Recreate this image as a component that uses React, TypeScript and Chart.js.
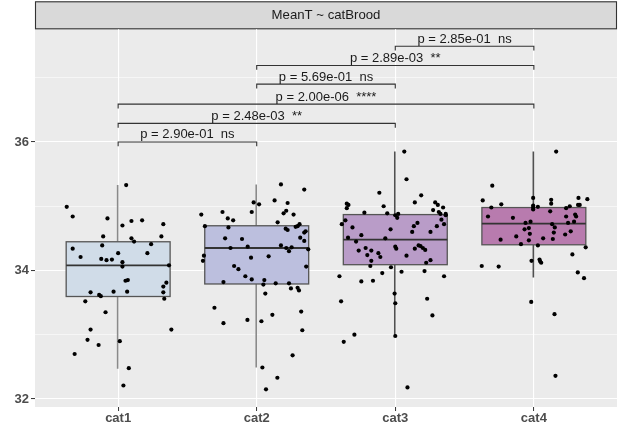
import React, { useEffect, useRef } from "react";
import { Chart, registerables } from "chart.js";

Chart.register(...registerables);

const stripTitle = "MeanT ~ catBrood";
const categories = ["cat1", "cat2", "cat3", "cat4"];
const yTickValues = [32, 33, 34, 35, 36, 37];
const yLabelValues = [32, 34, 36];

// box statistics
const whiskerLow = [32.47, 32.49, 32.97, 33.89];
const quartile1 = [33.595, 33.79, 34.09, 34.4];
const medians = [34.078, 34.35, 34.48, 34.73];
const quartile3 = [34.447, 34.696, 34.87, 34.98];
const whiskerHigh = [35.33, 35.34, 35.85, 35.85];

// jittered observations: value and horizontal jitter (in category units)
const cat1Values = [35.33, 34.99, 34.84, 34.81, 34.77, 34.78, 34.7, 34.72, 34.53, 34.53, 34.5, 34.45, 34.41, 34.39, 34.34, 34.27, 34.27, 34.21, 34.18, 34.16, 34.17, 34.13, 34.06, 34.08, 33.84, 33.85, 33.81, 33.75, 33.66, 33.62, 33.6, 33.67, 33.67, 33.66, 33.56, 33.52, 33.35, 33.08, 33.08, 32.92, 32.84, 32.9, 32.7, 32.48, 32.21];
const cat1Jitter = [0.058, -0.371, -0.328, -0.077, 0.096, 0.173, 0.031, 0.326, -0.108, 0.312, 0.096, 0.115, 0.238, -0.115, -0.328, 0.211, 0.0, -0.271, -0.122, -0.084, -0.045, 0.031, 0.031, 0.367, 0.053, 0.07, 0.348, 0.326, -0.199, -0.137, -0.125, -0.033, 0.065, 0.326, 0.333, -0.237, -0.091, -0.199, 0.384, -0.221, -0.141, 0.012, -0.314, 0.077, 0.038];

const cat2Values = [35.34, 35.26, 35.06, 35.03, 35.09, 35.05, 34.87, 34.91, 34.91, 34.89, 34.93, 34.87, 34.81, 34.78, 34.75, 34.69, 34.67, 34.65, 34.63, 34.68, 34.69, 34.72, 34.59, 34.61, 34.5, 34.49, 34.51, 34.46, 34.37, 34.35, 34.39, 34.35, 34.36, 34.33, 34.3, 34.23, 34.15, 34.2, 34.22, 34.07, 34.02, 34.06, 33.91, 33.86, 33.85, 33.78, 33.82, 33.8, 33.8, 33.72, 33.73, 33.69, 33.64, 33.42, 33.31, 33.36, 33.18, 33.23, 33.21, 33.07, 32.68, 32.49, 32.33, 32.15];
const cat2Jitter = [0.175, 0.343, -0.022, 0.017, 0.129, 0.223, -0.4, -0.247, -0.036, 0.194, 0.213, 0.266, -0.209, -0.17, 0.151, -0.374, -0.204, 0.209, 0.223, 0.281, 0.295, 0.309, 0.343, 0.353, -0.228, -0.106, 0.314, 0.343, -0.065, -0.189, 0.175, 0.213, 0.252, 0.372, 0.233, -0.381, -0.388, -0.041, 0.086, -0.163, -0.132, 0.357, -0.082, -0.036, 0.055, 0.048, -0.24, 0.137, 0.233, 0.247, 0.295, 0.305, 0.062, -0.305, 0.113, 0.321, -0.24, -0.067, 0.034, 0.329, 0.259, 0.041, 0.149, 0.067];

const cat3Values = [35.85, 35.42, 35.21, 35.17, 35.0, 35.06, 35.06, 35.02, 34.98, 35.04, 35.02, 34.97, 34.9, 34.89, 34.86, 34.88, 34.82, 34.94, 34.91, 34.88, 34.88, 34.86, 34.78, 34.72, 34.67, 34.79, 34.72, 34.69, 34.74, 34.69, 34.64, 34.6, 34.6, 34.55, 34.51, 34.5, 34.45, 34.31, 34.35, 34.31, 34.24, 34.27, 34.21, 34.15, 34.07, 34.37, 34.34, 34.34, 34.39, 34.38, 34.35, 34.32, 34.23, 34.16, 34.12, 34.05, 33.96, 33.98, 33.99, 33.91, 33.83, 33.84, 33.91, 33.64, 33.49, 33.56, 33.52, 33.3, 33.0, 32.89, 32.98, 32.18];
const cat3Jitter = [0.065, 0.081, -0.115, 0.187, -0.084, 0.141, 0.288, 0.307, 0.345, -0.35, -0.338, -0.35, -0.223, -0.058, 0.0, 0.021, 0.014, 0.273, 0.314, 0.326, 0.364, 0.364, -0.36, -0.386, -0.309, 0.333, 0.352, 0.3, 0.16, 0.134, -0.034, 0.122, 0.254, -0.245, -0.341, -0.072, -0.283, -0.264, -0.214, -0.173, -0.202, -0.122, -0.108, -0.173, -0.18, 0.0, 0.007, 0.141, 0.168, 0.182, 0.199, 0.216, 0.081, 0.254, 0.223, -0.031, -0.094, 0.045, 0.211, -0.403, -0.245, -0.161, 0.352, -0.005, 0.0, 0.23, -0.391, 0.268, -0.295, -0.372, 0.0, 0.088];

const cat4Values = [35.85, 35.32, 35.09, 35.03, 34.98, 35.13, 35.01, 34.98, 34.95, 34.99, 35.1, 35.04, 35.13, 35.11, 35.02, 35.02, 35.0, 34.97, 34.92, 34.84, 34.82, 34.84, 34.87, 34.84, 34.76, 34.74, 34.76, 34.74, 34.72, 34.67, 34.64, 34.66, 34.57, 34.59, 34.61, 34.56, 34.53, 34.5, 34.49, 34.48, 34.47, 34.41, 34.39, 34.36, 34.25, 34.15, 34.17, 34.14, 34.12, 34.07, 34.06, 33.97, 33.88, 33.51, 33.32, 32.36];
const cat4Jitter = [0.161, -0.3, -0.369, -0.235, -0.307, -0.005, -0.005, -0.005, -0.005, 0.029, 0.125, 0.125, 0.322, 0.386, 0.319, 0.331, 0.259, 0.233, 0.118, -0.331, -0.151, 0.233, 0.298, 0.305, -0.024, -0.06, 0.29, 0.247, 0.132, 0.151, -0.067, -0.036, -0.029, 0.144, 0.266, 0.226, -0.127, 0.067, 0.137, -0.24, -0.036, -0.093, 0.029, 0.374, 0.278, -0.017, 0.041, 0.046, 0.053, -0.376, -0.254, 0.317, 0.362, -0.019, 0.149, 0.156];

// pairwise comparisons
const bracketFrom = [1, 1, 1, 2, 2, 3];
const bracketTo = [2, 3, 4, 3, 4, 4];
const bracketY = [36.0, 36.29, 36.59, 36.9, 37.19, 37.49];
const bracketLabels = [
  "p = 2.90e-01  ns",
  "p = 2.48e-03  **",
  "p = 2.00e-06  ****",
  "p = 5.69e-01  ns",
  "p = 2.89e-03  **",
  "p = 2.85e-01  ns",
];

const yMin = 31.875;
const yMax = 37.754;

const boxFills = ["#d0dce8", "#bcbfde", "#b99cc8", "#b87bae"];
const whiskerColors = ["#8a8a8a", "#8a8a8a", "#505050", "#505050"];
const FONT = "'Liberation Sans', Arial, Helvetica, sans-serif";

const allValues = [cat1Values, cat2Values, cat3Values, cat4Values];
const allJitter = [cat1Jitter, cat2Jitter, cat3Jitter, cat4Jitter];

const panelPlugin = {
  id: "ggPanel",
  beforeDraw(chart: any) {
    const { ctx, chartArea: a } = chart;
    ctx.save();
    ctx.fillStyle = "#ebebeb";
    ctx.fillRect(a.left, a.top, a.right - a.left, a.bottom - a.top);
    const stripH = 28;
    ctx.fillStyle = "#d9d9d9";
    ctx.fillRect(a.left, a.top - stripH, a.right - a.left, stripH);
    ctx.strokeStyle = "#333333";
    ctx.lineWidth = 1.1;
    ctx.strokeRect(a.left + 0.5, a.top - stripH + 0.5, a.right - a.left - 1, stripH - 1);
    ctx.fillStyle = "#1a1a1a";
    ctx.font = "13.2px " + FONT;
    ctx.textAlign = "center";
    ctx.textBaseline = "middle";
    ctx.fillText(stripTitle, (a.left + a.right) / 2, a.top - stripH / 2 + 0.5);
    ctx.restore();
  },
  beforeDatasetsDraw(chart: any) {
    const { ctx } = chart;
    const xs = chart.scales.x;
    const ys = chart.scales.y;
    ctx.save();
    for (let i = 0; i < categories.length; i++) {
      const cx = xs.getPixelForValue(i + 1);
      const half = xs.getPixelForValue(i + 1 + 0.375) - cx;
      const yq1 = ys.getPixelForValue(quartile1[i]);
      const yq3 = ys.getPixelForValue(quartile3[i]);
      const ymed = ys.getPixelForValue(medians[i]);
      const ylo = ys.getPixelForValue(whiskerLow[i]);
      const yhi = ys.getPixelForValue(whiskerHigh[i]);
      ctx.strokeStyle = whiskerColors[i];
      ctx.lineWidth = 1.6;
      ctx.beginPath();
      ctx.moveTo(cx - 0.5, yhi);
      ctx.lineTo(cx - 0.5, yq3);
      ctx.moveTo(cx - 0.5, yq1);
      ctx.lineTo(cx - 0.5, ylo);
      ctx.stroke();
      ctx.fillStyle = boxFills[i];
      ctx.fillRect(cx - half, yq3, half * 2, yq1 - yq3);
      ctx.strokeStyle = "#555555";
      ctx.lineWidth = 1.3;
      ctx.strokeRect(cx - half, yq3, half * 2, yq1 - yq3);
      ctx.strokeStyle = "#333333";
      ctx.lineWidth = 1.8;
      ctx.beginPath();
      ctx.moveTo(cx - half, ymed);
      ctx.lineTo(cx + half, ymed);
      ctx.stroke();
    }
    ctx.restore();
  },
  afterDatasetsDraw(chart: any) {
    const { ctx } = chart;
    const xs = chart.scales.x;
    const ys = chart.scales.y;
    ctx.save();
    ctx.strokeStyle = "#333333";
    ctx.lineWidth = 1.1;
    ctx.font = "13px " + FONT;
    ctx.textAlign = "center";
    ctx.textBaseline = "alphabetic";
    for (let i = 0; i < bracketLabels.length; i++) {
      const x1 = xs.getPixelForValue(bracketFrom[i]);
      const x2 = xs.getPixelForValue(bracketTo[i]);
      const y = ys.getPixelForValue(bracketY[i]);
      const yt = ys.getPixelForValue(bracketY[i] - 0.067);
      ctx.beginPath();
      ctx.moveTo(x1, yt);
      ctx.lineTo(x1, y);
      ctx.lineTo(x2, y);
      ctx.lineTo(x2, yt);
      ctx.stroke();
      ctx.fillStyle = "#1a1a1a";
      ctx.fillText(bracketLabels[i], (x1 + x2) / 2, y - 3.5);
    }
    ctx.restore();
  },
};

export default function App() {
  const ref = useRef<HTMLCanvasElement>(null);
  useEffect(() => {
    document.body.style.margin = "0";
    const points: { x: number; y: number }[] = [];
    allValues.forEach((vals, i) => {
      vals.forEach((v, j) => points.push({ x: i + 1 + allJitter[i][j], y: v }));
    });
    const chart = new Chart(ref.current as HTMLCanvasElement, {
      type: "scatter",
      data: {
        datasets: [
          {
            data: points,
            pointRadius: 2.1,
            pointHoverRadius: 2.1,
            pointBorderWidth: 0,
            pointBackgroundColor: "#000000",
            pointBorderColor: "#000000",
          },
        ],
      },
      options: {
        animation: false,
        responsive: false,
        devicePixelRatio: 1,
        layout: { autoPadding: false, padding: { left: 0, right: 2, top: 29.3, bottom: 0 } },
        plugins: { legend: { display: false }, tooltip: { enabled: false } },
        scales: {
          x: {
            type: "linear",
            min: 0.4,
            max: 4.6,
            afterBuildTicks: (scale: any) => {
              scale.ticks = categories.map((_, i) => ({ value: i + 1 }));
            },
            afterFit: (scale: any) => {
              scale.height = 28;
              scale.paddingLeft = 0;
              scale.paddingRight = 0;
            },
            ticks: {
              callback: (v: any) => categories[Math.round(Number(v)) - 1] ?? "",
              font: { family: FONT, size: 13, weight: "bold" },
              color: "#4d4d4d",
              padding: 0,
              maxRotation: 0,
              autoSkip: false,
            },
            grid: {
              color: "#ffffff",
              lineWidth: 1.1,
              drawTicks: true,
              tickLength: 4,
              tickColor: "#333333",
              tickWidth: 1,
            },
            border: { display: false },
          },
          y: {
            type: "linear",
            min: yMin,
            max: yMax,
            afterBuildTicks: (scale: any) => {
              scale.ticks = yTickValues.map((v) => ({ value: v }));
            },
            afterFit: (scale: any) => {
              scale.width = 35;
              scale.paddingTop = 0;
              scale.paddingBottom = 0;
            },
            ticks: {
              callback: (v: any) => (yLabelValues.includes(Number(v)) ? String(v) : ""),
              font: { family: FONT, size: 13, weight: "bold" },
              color: "#4d4d4d",
              padding: 2,
              autoSkip: false,
            },
            grid: {
              color: "#ffffff",
              lineWidth: (ctx: any) => (yLabelValues.includes(ctx.tick?.value) ? 1.1 : 0.55),
              drawTicks: true,
              tickLength: 4,
              tickColor: (ctx: any) => (yLabelValues.includes(ctx.tick?.value) ? "#333333" : "rgba(0,0,0,0)"),
              tickWidth: 1,
            },
            border: { display: false },
          },
        },
      },
      plugins: [panelPlugin],
    } as any);
    return () => chart.destroy();
  }, []);
  return <canvas ref={ref} width={619} height={435} style={{ display: "block", width: 619, height: 435 }} />;
}
